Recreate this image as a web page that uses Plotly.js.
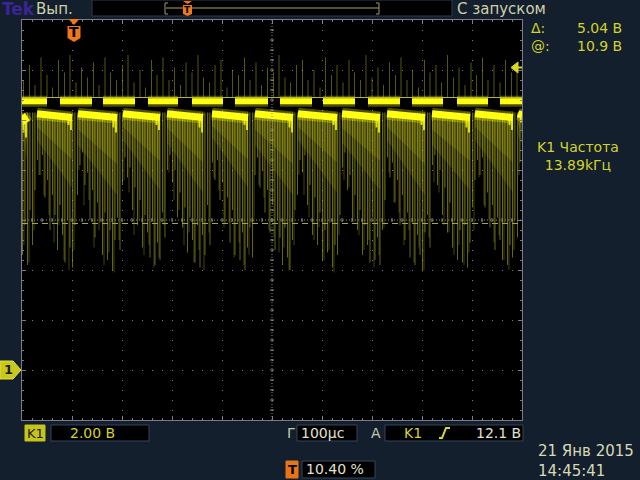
<!DOCTYPE html>
<html><head><meta charset="utf-8">
<script src="https://cdn.plot.ly/plotly-3.0.1.min.js"></script>
<style>html,body{margin:0;padding:0;background:#131f2d;}#chart{width:640px;height:480px;}</style>
</head><body><div id="chart"></div>
<script>
// ---- DATA (time in µs, 100 µs/div; voltage in V, 2 V/div, ground = 0 V) ----
const upStart = [0, 76, 162, 252, 340, 426, 516, 602, 692, 780, 870, 956];
const upEnd   = [50, 140, 226, 312, 402, 492, 580, 666, 756, 842, 932, 1000];
const upLevel = [10.75, 10.75, 10.75, 10.75, 10.75, 10.75, 10.75, 10.75, 10.75, 10.75, 10.75, 10.75];
const lowStart = [0, 30, 112, 202, 290, 380, 466, 552, 640, 730, 820, 906, 992];
const lowEnd   = [10, 100, 190, 276, 362, 452, 542, 630, 716, 806, 896, 982, 1000];
const lowLevelA = [10.2, 10.25, 10.25, 10.25, 10.25, 10.25, 10.25, 10.25, 10.25, 10.25, 10.25, 10.25, 10.25];
const lowLevelB = [9.9, 10.1, 10.1, 10.1, 10.1, 10.1, 10.1, 10.1, 10.1, 10.1, 10.1, 10.1, 10.2];
const lowTail   = [9.3, 9.6, 9.5, 9.6, 9.5, 9.6, 9.5, 9.6, 9.5, 9.6, 9.5, 9.6, 9.9];
const wedgeDepthStart = [9.4, 9.2, 9.0, 9.2, 9.1, 9.3, 9.0, 9.2, 9.1, 9.2, 9.0, 9.2, 9.4];
const wedgeDepthEnd   = [8.4, 7.3, 7.0, 7.2, 7.1, 7.3, 7.0, 7.1, 7.2, 7.0, 7.2, 7.1, 9.0];
const spikeTop = 10.3;
const spikeT = [1,6,11,16,21,26,31,36,41,46,51,56,61,66,71,76,81,86,91,96,
101,106,111,116,121,126,131,136,141,146,151,156,161,166,171,176,181,186,191,196,
201,206,211,216,221,226,231,236,241,246,251,256,261,266,271,276,281,286,291,296,
301,306,311,316,321,326,331,336,341,346,351,356,361,366,371,376,381,386,391,396,
401,406,411,416,421,426,431,436,441,446,451,456,461,466,471,476,481,486,491,496,
501,506,511,516,521,526,531,536,541,546,551,556,561,566,571,576,581,586,591,596,
601,606,611,616,621,626,631,636,641,646,651,656,661,666,671,676,681,686,691,696,
701,706,711,716,721,726,731,736,741,746,751,756,761,766,771,776,781,786,791,796,
801,806,811,816,821,826,831,836,841,846,851,856,861,866,871,876,881,886,891,896,
901,906,911,916,921,926,931,936,941,946,951,956,961,966,971,976,981,986,991,996];
const spikeLo = [4.6,5.8,4.2,6.4,5.0,7.2,
8.4,7.8,8.6,6.9,7.6,5.6,7.0,6.2,4.8,6.6,5.4,4.3,6.0,4.9,4.1,5.8,7.0,
8.2,8.7,7.4,7.9,6.0,7.2,5.3,6.7,5.9,4.6,6.3,4.4,5.6,4.0,5.2,6.1,4.8,7.4,
8.5,7.7,8.1,6.4,7.3,5.8,6.8,4.9,6.2,5.5,4.5,6.0,4.2,5.1,4.4,6.3,5.3,
8.0,8.6,7.5,8.0,6.1,7.1,5.7,6.5,4.7,6.1,5.2,4.3,5.8,4.1,5.4,4.6,6.6,5.0,
8.3,7.6,8.4,6.8,7.5,5.9,6.9,5.1,6.4,4.6,5.9,4.4,5.5,4.0,4.9,5.7,4.5,
7.8,8.5,7.3,8.0,6.3,7.2,5.5,6.6,4.8,6.0,5.3,4.2,5.7,4.5,4.0,5.2,6.4,
7.0,8.4,7.9,8.6,6.6,7.4,5.4,6.9,5.0,6.3,4.4,5.6,4.7,5.9,4.1,5.0,4.6,6.2,
8.1,8.7,7.2,7.8,6.0,7.0,5.6,6.4,4.6,5.8,5.0,4.3,6.1,4.4,5.3,4.2,5.6,6.8,
8.5,7.7,8.3,6.7,7.6,5.8,7.0,5.2,6.3,4.5,5.9,4.2,5.4,4.6,4.0,5.5,6.2,4.9,
8.2,8.6,7.4,8.0,6.2,7.3,5.5,6.7,4.9,6.0,4.4,5.6,4.3,5.8,4.1,5.1,6.5,
7.6,8.4,7.8,8.5,6.5,7.1,5.7,6.6,4.8,6.1,5.2,4.4,5.9,4.2,5.0,4.5,6.0,5.3,
8.3];
const spike2T = [4,14,24,34,44,54,64,74,84,94,104,114,124,134,144,154,164,174,184,194,
204,214,224,234,244,254,264,274,284,294,304,314,324,334,344,354,364,374,384,394,
404,414,424,434,444,454,464,474,484,494,504,514,524,534,544,554,564,574,584,594,
604,614,624,634,644,654,664,674,684,694,704,714,724,734,744,754,764,774,784,794,
804,814,824,834,844,854,864,874,884,894,904,914,924,934,944,954,964,974,984,994];
const spike2Lo = [5.0,4.3,5.6,7.8,7.0,6.2,5.1,5.8,4.4,4.0,4.8,8.0,6.6,6.8,4.9,5.6,4.2,4.7,3.9,5.2,
7.6,7.1,5.4,6.0,4.6,5.0,4.1,4.5,5.8,7.9,6.8,6.4,5.0,5.5,4.3,4.8,4.0,5.5,7.7,7.2,
5.7,5.9,4.5,5.1,4.2,4.6,5.9,7.4,6.9,5.6,5.3,4.7,4.9,4.0,5.0,7.8,7.0,6.1,5.2,5.7,
4.4,4.8,3.9,5.4,7.6,7.3,5.9,5.4,4.8,5.2,4.1,4.6,5.7,7.9,6.7,6.3,5.0,5.6,4.3,4.9,
4.0,5.3,7.5,7.1,5.8,5.5,4.6,5.0,4.2,4.7,5.6,7.7,6.6,6.0,5.1,5.4,4.4,4.0,4.8,7.8];
const upBase = 10.9;
const upT = [3,15,26,38,50,61,73,85,96,108,119,131,143,154,166,177,189,201,212,224,
236,247,259,270,282,294,305,317,328,340,352,363,375,386,398,410,421,433,445,456,
468,479,491,503,514,526,537,549,561,572,584,596,607,619,630,642,654,665,677,688,
700,712,723,735,747,758,770,781,793,805,816,828,839,851,863,874,886,898,909,921,
932,944,956,967,979,990];
const upTop = [11.6,12.2,11.4,12.5,11.8,11.3,12.4,11.9,12.6,11.5,12.1,11.7,12.3,11.4,12.5,11.9,11.6,12.2,12.6,11.5,
12.0,11.3,12.4,11.8,12.5,11.6,12.1,11.4,12.3,11.9,12.6,11.7,11.5,12.2,12.4,11.3,12.0,11.8,12.5,11.6,
12.3,11.4,12.1,11.9,12.6,11.7,11.5,12.2,12.4,11.6,12.0,11.3,12.5,11.8,12.2,11.5,12.4,11.9,11.6,12.6,
11.7,12.1,11.4,12.3,11.8,12.5,11.6,12.0,11.3,12.4,11.9,12.2,11.5,12.6,11.7,12.1,11.4,12.3,11.8,12.5,
11.6,12.2,11.5,12.4,11.9,12.0];
// readouts
const cursorAt = 10.9, cursorDelta = 5.04;
const triggerLevel = 12.1;
const triggerPct = 10.40;
const freqText = "13.89kГц";
const chScale = "2.00 В", timeScale = "100µс";
const dateText = "21 Янв 2015", timeText = "14:45:41";

// ---- geometry helpers (pixel -> paper) ----
const X0 = 22, Y0 = 20, W = 500, H = 400;
const px = x => (x - X0) / W;
const py = y => (Y0 + H - y) / H;
const FONT = "DejaVu Sans";

// ---- traces ----
const wx = [], wy = [], ix = [], iy = [];
for (let i = 0; i < lowStart.length; i++) {
  wx.push(lowStart[i], lowEnd[i], lowEnd[i], lowStart[i], lowStart[i], null);
  wy.push(lowLevelA[i], lowLevelB[i], wedgeDepthEnd[i], wedgeDepthStart[i], lowLevelA[i], null);
  const dS = lowLevelA[i] + (wedgeDepthStart[i] - lowLevelA[i]) * 0.5;
  const dE = lowLevelB[i] + (wedgeDepthEnd[i] - lowLevelB[i]) * 0.6;
  ix.push(lowStart[i], lowEnd[i], lowEnd[i], lowStart[i], lowStart[i], null);
  iy.push(lowLevelA[i], lowLevelB[i], dE, dS, lowLevelA[i], null);
}
const vseg = (T, lo, hi) => { const x = [], y = []; for (let i = 0; i < Math.min(T.length, lo.length); i++) { x.push(T[i], T[i], null); y.push(lo[i], Array.isArray(hi) ? hi[i] : hi, null); } return {x, y}; };
const s1 = vseg(spikeT, spikeLo, spikeTop);
const s2 = vseg(spike2T, spike2Lo, spikeTop);
const su = vseg(upT, upTop.map(() => upBase), upTop);
const lx = [], ly = [], tx = [], ty = [];
for (let i = 0; i < lowStart.length; i++) {
  lx.push(lowStart[i], lowEnd[i], null); ly.push(lowLevelA[i], lowLevelB[i], null);
  tx.push(lowEnd[i] - 2, lowEnd[i] - 2, null, lowEnd[i] - 7, lowEnd[i] - 7, null);
  ty.push(lowLevelB[i], lowTail[i], null, lowLevelB[i], lowTail[i] + 0.2, null);
}
const hx = [], hy = [];
for (let i = 0; i < upStart.length; i++) {
  hx.push(upStart[i], upEnd[i], null); hy.push(upLevel[i], upLevel[i], null);
}
const L = (x, y, color, width, extra) => Object.assign({x, y, mode: 'lines', line: {color, width}, hoverinfo: 'skip'}, extra || {});
const traces = [
  L(wx, wy, 'rgba(0,0,0,0)', 0, {fill: 'toself', fillcolor: 'rgba(190,190,20,0.16)'}),
  L(ix, iy, 'rgba(0,0,0,0)', 0, {fill: 'toself', fillcolor: 'rgba(200,200,25,0.18)'}),
  L(s2.x, s2.y, 'rgba(190,190,30,0.35)', 1),
  L(s1.x, s1.y, 'rgba(205,205,35,0.5)', 1),
  L(su.x, su.y, 'rgba(190,190,30,0.45)', 1),
  L(lx, ly, 'rgba(255,255,0,0.3)', 12),
  L(tx, ty, 'rgba(255,255,20,0.8)', 2),
  L(lx, ly, '#ffff14', 7),
  L(hx, hy, 'rgba(255,255,0,0.3)', 11),
  L(hx, hy, '#ffff14', 6)
];

// ---- shapes ----
const shapes = [];
const gridCol = '#8a8a8a';
shapes.push({type: 'line', xref: 'x', yref: 'paper', x0: 500, x1: 500, y0: 0, y1: 1, line: {color: gridCol, width: 1, dash: '1px,2px'}});
shapes.push({type: 'line', xref: 'paper', yref: 'y', x0: 0, x1: 1, y0: 6, y1: 6, line: {color: gridCol, width: 1, dash: '1px,2px'}});
for (let t = 20; t < 1000; t += 20) shapes.push({type: 'line', xref: 'x', yref: 'y', x0: t, x1: t, y0: 5.92, y1: 6.08, line: {color: gridCol, width: 1}});
for (let v = -1.6; v < 14; v += 0.4) shapes.push({type: 'line', xref: 'x', yref: 'y', x0: 496, x1: 504, y0: v, y1: v, line: {color: gridCol, width: 1}});
// cursors
shapes.push({type: 'line', xref: 'paper', yref: 'y', x0: 0, x1: 1, y0: cursorAt, y1: cursorAt, line: {color: '#b4b440', width: 1}});
shapes.push({type: 'line', xref: 'paper', yref: 'y', x0: 0, x1: 1, y0: cursorAt - cursorDelta, y1: cursorAt - cursorDelta, line: {color: '#a8a830', width: 1, dash: '6px,4px'}});
// trigger level arrow (right edge)
shapes.push({type: 'path', xref: 'paper', yref: 'y', path: `M${px(511)},${triggerLevel} L${px(518)},${triggerLevel + 0.22} L${px(518)},${triggerLevel - 0.22} Z`, fillcolor: '#d8d820', line: {color: '#d8d820', width: 1}});
shapes.push({type: 'line', xref: 'paper', yref: 'y', x0: px(517), x1: px(522), y0: triggerLevel, y1: triggerLevel, line: {color: '#d8d820', width: 2}});
// trigger position marker (top)
const tPos = triggerPct / 100 * 1000;
shapes.push({type: 'path', xref: 'x', yref: 'paper', path: `M${tPos - 11},${py(19)} L${tPos + 11},${py(19)} L${tPos},${py(25)} Z`, fillcolor: '#f07818', line: {width: 0}});
shapes.push({type: 'path', xref: 'x', yref: 'paper', path: `M${tPos - 13},${py(26)} L${tPos + 13},${py(26)} L${tPos + 13},${py(38)} L${tPos},${py(42)} L${tPos - 13},${py(38)} Z`, fillcolor: '#f07818', line: {width: 0}});
// channel 1 ground marker
shapes.push({type: 'path', xref: 'paper', yref: 'y', path: `M${px(0)},0.36 L${px(13)},0.36 L${px(21)},0 L${px(13)},-0.36 L${px(0)},-0.36 Z`, fillcolor: '#c8c81e', line: {color: '#e2e240', width: 1}});
// header boxes
shapes.push({type: 'rect', xref: 'paper', yref: 'paper', x0: px(92), x1: px(452), y0: py(0), y1: py(16), fillcolor: '#000', line: {color: '#2a3a4c', width: 1}});
shapes.push({type: 'line', xref: 'paper', yref: 'paper', x0: px(166), x1: px(379), y0: py(8), y1: py(8), line: {color: '#b0a448', width: 1}});
shapes.push({type: 'path', xref: 'paper', yref: 'paper', path: `M${px(168)},${py(3)} L${px(165)},${py(3)} L${px(165)},${py(14)} L${px(168)},${py(14)}`, line: {color: '#a09878', width: 1}});
shapes.push({type: 'path', xref: 'paper', yref: 'paper', path: `M${px(376)},${py(3)} L${px(379)},${py(3)} L${px(379)},${py(14)} L${px(376)},${py(14)}`, line: {color: '#a09878', width: 1}});
shapes.push({type: 'path', xref: 'paper', yref: 'paper', path: `M${px(183)},${py(1)} L${px(192)},${py(1)} L${px(187.5)},${py(4)} Z`, fillcolor: '#f07818', line: {width: 0}});
shapes.push({type: 'path', xref: 'paper', yref: 'paper', path: `M${px(183)},${py(5)} L${px(192)},${py(5)} L${px(192)},${py(14)} L${px(187.5)},${py(16)} L${px(183)},${py(14)} Z`, fillcolor: '#f07818', line: {width: 0}});
// bottom boxes
const box = (x0, x1, y0, y1, fill, lc) => shapes.push({type: 'rect', xref: 'paper', yref: 'paper', x0: px(x0), x1: px(x1), y0: py(y0), y1: py(y1), fillcolor: fill, line: {color: lc || '#34465a', width: 1}});
box(25, 45, 425, 441, '#c4c41c', '#c4c41c');
box(51, 149, 425, 441, '#000');
box(297, 357, 425, 441, '#000');
box(385, 523, 425, 441, '#000');
box(286, 298, 461, 478, '#e8741a', '#e8741a');
box(302, 375, 461, 478, '#000');
shapes.push({type: 'path', xref: 'paper', yref: 'paper', path: `M${px(439)},${py(438)} L${px(442)},${py(438)} L${px(446)},${py(428)} L${px(450)},${py(428)}`, line: {color: '#d8d830', width: 2}});

// ---- annotations ----
const anns = [];
const A = (text, x, y, color, size, xanchor, extra) => anns.push(Object.assign({text, xref: 'paper', yref: 'paper', x: px(x), y: py(y), xanchor: xanchor || 'left', yanchor: 'middle', align: xanchor || 'left', showarrow: false, borderpad: 0, font: {family: FONT, size: size || 15, color}}, extra || {}));
A('<b>Tek</b>', 1, 9, '#3b2596', 17);
A('Вып.', 35, 9, '#cfcfa8', 15);
A('С запуском', 456, 9, '#cfcfa8', 15);
A('Δ:<br>@:', 530, 37, '#d2d22a', 14);
A(cursorDelta.toFixed(2) + ' В<br>' + cursorAt.toFixed(1) + ' В', 623, 37, '#d2d22a', 14, 'right');
A('K1 Частота<br>' + freqText, 578, 156, '#d2d22a', 14, 'center');
A('K1', 35, 433, '#1c1c00', 13, 'center');
A(chScale, 69, 433, '#d2d22a', 14);
A('Г', 291, 433, '#c8c8b0', 14, 'center');
A(timeScale, 300, 433, '#e2e2d2', 14);
A('A', 376, 433, '#c8c8b0', 14, 'center');
A('K1', 403, 433, '#d2d22a', 14);
A(triggerLevel.toFixed(1) + ' В', 522, 433, '#e2e2d2', 14, 'right');
A('<b>T</b>', 292, 469, '#000', 13, 'center');
A(triggerPct.toFixed(2) + ' %', 305, 469, '#e2e2d2', 14);
A(dateText + '<br>' + timeText, 537, 461, '#d8d8b8', 15);
A('<b>1</b>', 8, 369, '#1c1c00', 13, 'center');
anns.push({text: '<b>T</b>', xref: 'x', yref: 'paper', x: tPos, y: py(32), xanchor: 'center', yanchor: 'middle', showarrow: false, borderpad: 0, font: {family: FONT, size: 14, color: '#000'}});
anns.push({text: '<b>T</b>', xref: 'paper', yref: 'paper', x: px(187.5), y: py(10), xanchor: 'center', yanchor: 'middle', showarrow: false, borderpad: 0, font: {family: FONT, size: 9, color: '#000'}});

const axBase = {showticklabels: false, zeroline: false, showline: true, linecolor: '#7c7c88', linewidth: 1, mirror: 'ticks',
  ticks: 'inside', ticklen: 4, tickcolor: '#7c7c88', showgrid: true, gridcolor: '#7a7a7a', gridwidth: 1, griddash: '1px,9px', fixedrange: true};
const layout = {
  width: 640, height: 480,
  margin: {l: X0, r: 640 - X0 - W, t: Y0, b: 480 - Y0 - H, pad: 0},
  paper_bgcolor: '#131f2d', plot_bgcolor: '#000',
  showlegend: false,
  xaxis: Object.assign({}, axBase, {range: [0, 1000], dtick: 100, tick0: 0, minor: {dtick: 20, ticks: 'inside', ticklen: 2, tickcolor: '#7c7c88', showgrid: false}}),
  yaxis: Object.assign({}, axBase, {range: [-2, 14], dtick: 2, tick0: 0, minor: {dtick: 0.4, ticks: 'inside', ticklen: 2, tickcolor: '#7c7c88', showgrid: false}}),
  shapes, annotations: anns
};
Plotly.newPlot('chart', traces, layout, {staticPlot: true, displayModeBar: false});
</script></body></html>
